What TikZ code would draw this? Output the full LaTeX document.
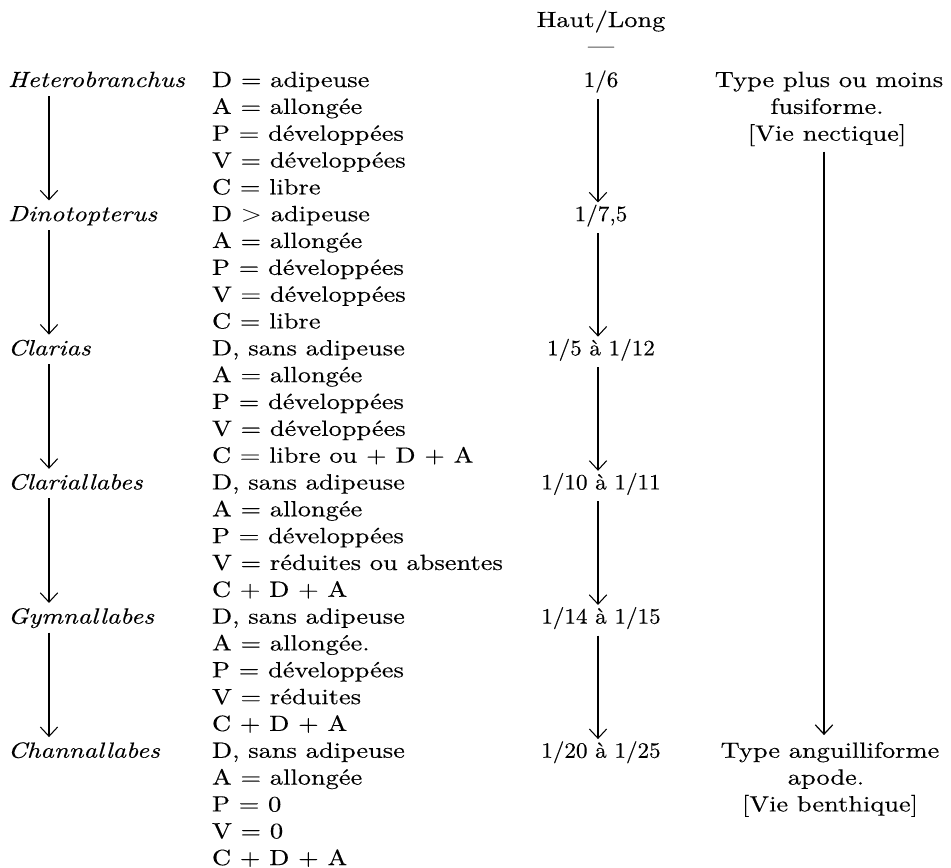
\documentclass[tikz,border=0pt]{standalone}
\usepackage{fontspec}
\setmainfont{lmroman10-regular.otf}[ItalicFont=lmroman10-italic.otf, FakeBold=0.3]
\usepackage{graphicx}
\usetikzlibrary{arrows.meta,calc}
\newcommand{\wideT}[1]{\scalebox{1.2}[1]{#1}}
\newcommand{\numT}[1]{\scalebox{1.05}[1]{#1}}
\tikzset{
  x=0.75pt, y=-0.75pt,
  txt/.style={inner sep=0pt, outer sep=0pt, text height=11pt, text depth=3pt,
              font=\fontsize{16.5}{19}\selectfont},
  lbl/.style={txt, anchor=base west},
  ctr/.style={txt, anchor=base},
  arr/.style={line width=0.8pt, -{Straight Barb[length=7pt,width=13pt]}},
  thickarr/.style={line width=1.4pt, -{Straight Barb[length=7pt,width=13pt,line width=0.9pt]}},
}
\begin{document}
\begin{tikzpicture}
\useasboundingbox (0,0) rectangle (951,868);
\coordinate (colL) at (49,0);
\coordinate (colM) at (598,0);
\coordinate (colR) at (824,0);

% header
\node[ctr] (hl) at (601,27) {\wideT{Haut/Long}};
\node[ctr] (hd) at (601,53) {\wideT{—}};

% species
\foreach \n [count=\i from 0] in {Heterobranchus,Dinotopterus,Clarias,Clariallabes,Gymnallabes,Channallabes}
  \node[lbl] (s\i) at (8,{87+134.15*\i}) {\wideT{\itshape \n}};

% attributes
\foreach \t [count=\i from 0] in {
  D = adipeuse, A = allongée, P = développées, V = développées, C = libre,
  D $>$ adipeuse, A = allongée, P = développées, V = développées, C = libre,
  {D, sans adipeuse}, A = allongée, P = développées, V = développées, C = libre ou + D + A,
  {D, sans adipeuse}, A = allongée, P = développées, V = réduites ou absentes, C\ + D + A,
  {D, sans adipeuse}, A = allongée., P = développées, V = réduites, C\ + D + A,
  {D, sans adipeuse}, A = allongée, P = 0, V = 0, C\ + D + A}
  \node[lbl] (a\i) at (212,{87+26.83*\i}) {\wideT{\t}};

% ratios
\foreach \t [count=\i from 0] in {1/6, {1/7,5}, 1/5 à 1/12, 1/10 à 1/11, 1/14 à 1/15, 1/20 à 1/25}
  \node[ctr] (r\i) at (601,{87+134.15*\i}) {\numT{\t}};

% right column
\node[ctr] (t1) at (829,87) {\wideT{Type plus ou moins}};
\node[ctr] (t2) at (827,{87+26.83}) {\wideT{fusiforme.}};
\node[ctr] (t3) at (827,{87+2*26.83}) {\wideT{[Vie nectique]}};
\node[ctr] (u1) at (830,{87+25*26.83}) {\wideT{Type anguilliforme}};
\node[ctr] (u2) at (826,{87+26*26.83}) {\wideT{apode.}};
\node[ctr] (u3) at (830,{87+27*26.83}) {\wideT{[Vie benthique]}};

% arrows
\foreach \i [evaluate=\i as \j using int(\i+1)] in {0,...,4} {
  \draw[arr] ($(colL |- s\i.south)+(0,5)$) -- ($(colL |- s\j.north)+(0,-6)$);
  \draw[arr] ($(colM |- r\i.south)+(0,8)$) -- ($(colM |- r\j.north)+(0,-4)$);
}
\draw[thickarr] ($(colR |- t3.south)+(0,7)$) -- ($(colR |- u1.north)+(0,-8)$);
\end{tikzpicture}
\end{document}
